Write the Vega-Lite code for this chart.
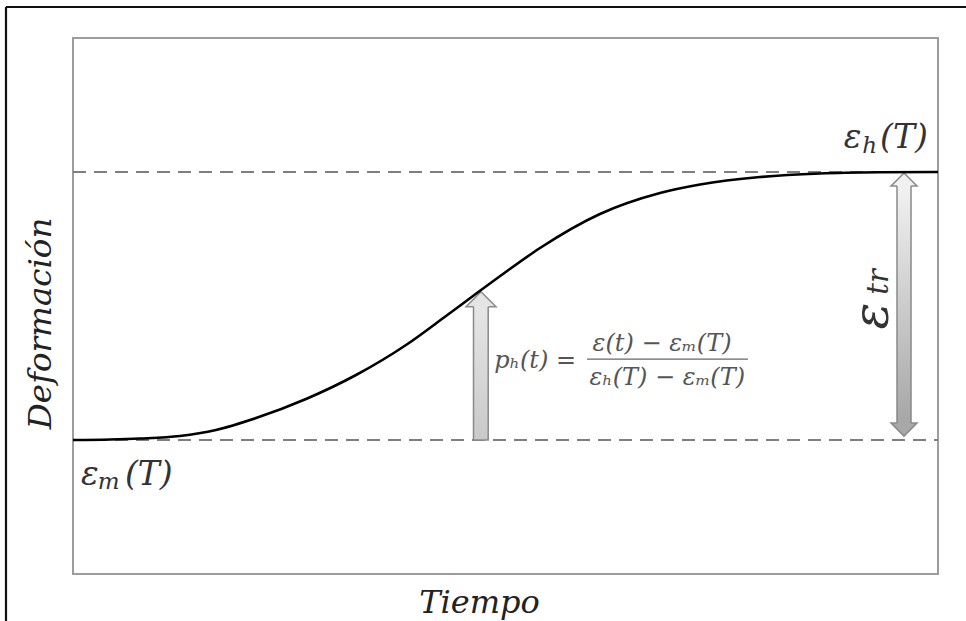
{
  "$schema": "https://vega.github.io/schema/vega-lite/v6.json",
  "width": 865,
  "height": 536,
  "autosize": {"type": "none"},
  "padding": {"left": 73, "top": 38, "right": 28, "bottom": 47},
  "background": "white",
  "config": {"view": {"stroke": "#9c9c9c", "strokeWidth": 2}},
  "encoding": {
    "x": {
      "field": "t", "type": "quantitative",
      "scale": {"domain": [0, 10], "nice": false, "zero": false},
      "axis": {
        "title": "Tiempo", "domain": false, "ticks": false, "labels": false, "grid": false,
        "titleFont": "DejaVu Serif", "titleFontStyle": "italic", "titleFontWeight": "normal",
        "titleFontSize": 32, "titleColor": "#222222", "titleX": 406, "titleY": 38,
        "titleAlign": "center", "titleBaseline": "alphabetic", "titleAnchor": null
      }
    },
    "y": {
      "field": "e", "type": "quantitative",
      "scale": {"domain": [-0.5, 1.5], "nice": false, "zero": false},
      "axis": {
        "title": "Deformación", "domain": false, "ticks": false, "labels": false, "grid": false,
        "titleFont": "DejaVu Serif", "titleFontStyle": "italic", "titleFontWeight": "normal",
        "titleFontSize": 32.5, "titleColor": "#222222", "titleX": -23, "titleY": 285,
        "titleAngle": 270, "titleAlign": "center", "titleBaseline": "alphabetic", "titleAnchor": null
      }
    }
  },
  "layer": [
    {
      "data": {"values": [
        {"part": "top", "t": -0.7746, "e": 1.6157, "t2": 10.6, "e2": 1.6157},
        {"part": "left", "t": -0.7746, "e": 1.6157, "t2": -0.7746, "e2": -0.8}
      ]},
      "mark": {"type": "rule", "color": "#111111", "strokeWidth": 2.2, "clip": false},
      "encoding": {"x2": {"field": "t2"}, "y2": {"field": "e2"}}
    },
    {
      "data": {"values": [
        {"level": "εm(T)", "t": 0, "t2": 10, "e": 0},
        {"level": "εh(T)", "t": 0, "t2": 10, "e": 1}
      ]},
      "mark": {"type": "rule", "color": "#7f7f7f", "strokeWidth": 2, "strokeDash": [13, 8]},
      "encoding": {"x2": {"field": "t2"}}
    },
    {
      "data": {"values": [
        {"arrow": "p_h", "t": 4.63, "t2": 4.80, "e": 0, "e2": 0.505}
      ]},
      "mark": {
        "type": "rect", "stroke": "#8a8a8a", "strokeWidth": 1.5,
        "fill": {"gradient": "linear", "x1": 0, "y1": 0, "x2": 0, "y2": 1,
          "stops": [{"offset": 0, "color": "#e6e6e6"}, {"offset": 1, "color": "#c9c9c9"}]}
      },
      "encoding": {"x2": {"field": "t2"}, "y2": {"field": "e2"}}
    },
    {
      "data": {"values": [{"arrow": "p_h", "t": 4.717, "e": 0.497}]},
      "mark": {
        "type": "point", "filled": true, "opacity": 1, "size": 900,
        "shape": "M -0.5 0 L -1 0 L 0 -1 L 1 0 L 0.5 0",
        "fill": "#e4e4e4", "stroke": "#8a8a8a", "strokeWidth": 1.5
      }
    },
    {
      "data": {"values": [
        {"arrow": "ε_tr", "t": 9.526, "t2": 9.688, "e": 0.06, "e2": 0.952}
      ]},
      "mark": {
        "type": "rect", "stroke": "#8a8a8a", "strokeWidth": 1.5,
        "fill": {"gradient": "linear", "x1": 0, "y1": 0, "x2": 0, "y2": 1,
          "stops": [{"offset": 0, "color": "#f2f2f2"}, {"offset": 1, "color": "#a6a6a6"}]}
      },
      "encoding": {"x2": {"field": "t2"}, "y2": {"field": "e2"}}
    },
    {
      "data": {"values": [{"arrow": "ε_tr top", "t": 9.607, "e": 0.948}]},
      "mark": {
        "type": "point", "filled": true, "opacity": 1, "size": 676,
        "shape": "M -0.54 0 L -1 0 L 0 -1 L 1 0 L 0.54 0",
        "fill": "#f0f0f0", "stroke": "#8a8a8a", "strokeWidth": 1.5
      }
    },
    {
      "data": {"values": [{"arrow": "ε_tr bottom", "t": 9.607, "e": 0.063}]},
      "mark": {
        "type": "point", "filled": true, "opacity": 1, "size": 676,
        "shape": "M -0.54 0 L -1 0 L 0 1 L 1 0 L 0.54 0",
        "fill": "#a8a8a8", "stroke": "#8a8a8a", "strokeWidth": 1.5
      }
    },
    {
      "data": {"values": [
        {"t": 0, "e": 0}, {"t": 0.428, "e": 0.0019}, {"t": 0.775, "e": 0.0056},
        {"t": 1.237, "e": 0.0149}, {"t": 1.653, "e": 0.0373}, {"t": 2.116, "e": 0.0821},
        {"t": 2.694, "e": 0.153}, {"t": 3.272, "e": 0.2425}, {"t": 3.85, "e": 0.3545},
        {"t": 4.312, "e": 0.4627}, {"t": 4.624, "e": 0.5373}, {"t": 4.971, "e": 0.6194},
        {"t": 5.399, "e": 0.7164}, {"t": 6.092, "e": 0.8433}, {"t": 6.786, "e": 0.9216},
        {"t": 7.249, "e": 0.9534}, {"t": 7.942, "e": 0.9813}, {"t": 8.636, "e": 0.9944},
        {"t": 9.329, "e": 0.9989}, {"t": 10, "e": 1.0}
      ]},
      "mark": {"type": "line", "color": "#000000", "strokeWidth": 2.6, "interpolate": "monotone"}
    },
    {
      "data": {"values": [{"t": 5.942, "t2": 7.803, "e": 0.302}]},
      "mark": {"type": "rule", "color": "#666666", "strokeWidth": 1.3},
      "encoding": {"x2": {"field": "t2"}}
    },
    {
      "data": {"values": [
        {"label": "ε", "t": 8.91, "e": 1.0896},
        {"label": "(T)", "t": 9.33, "e": 1.0896},
        {"label": "ε", "t": 0.0925, "e": -0.168},
        {"label": "(T)", "t": 0.60, "e": -0.168}
      ]},
      "mark": {"type": "text", "font": "DejaVu Serif", "fontStyle": "italic", "fontSize": 33,
        "color": "#333333", "align": "left", "baseline": "alphabetic"},
      "encoding": {"text": {"field": "label"}}
    },
    {
      "data": {"values": [
        {"label": "h", "t": 9.125, "e": 1.0709},
        {"label": "m", "t": 0.285, "e": -0.183}
      ]},
      "mark": {"type": "text", "font": "DejaVu Serif", "fontStyle": "italic", "fontSize": 23,
        "color": "#333333", "align": "left", "baseline": "alphabetic"},
      "encoding": {"text": {"field": "label"}}
    },
    {
      "data": {"values": [{"label": "ε", "t": 9.25, "e": 0.462}]},
      "mark": {"type": "text", "font": "DejaVu Serif", "fontStyle": "italic", "fontSize": 50,
        "color": "#333333", "align": "center", "baseline": "middle", "angle": 270},
      "encoding": {"text": {"field": "label"}}
    },
    {
      "data": {"values": [{"label": "tr", "t": 9.32, "e": 0.59}]},
      "mark": {"type": "text", "font": "DejaVu Serif", "fontStyle": "italic", "fontSize": 29,
        "color": "#333333", "align": "center", "baseline": "middle", "angle": 270},
      "encoding": {"text": {"field": "label"}}
    },
    {
      "data": {"values": [{"label": "pₕ(t) =", "t": 4.87, "e": 0.27}]},
      "mark": {"type": "text", "font": "DejaVu Serif", "fontStyle": "italic", "fontSize": 24,
        "color": "#555555", "align": "left", "baseline": "alphabetic"},
      "encoding": {"text": {"field": "label"}}
    },
    {
      "data": {"values": [
        {"label": "ε(t) − εₘ(T)", "t": 6.81, "e": 0.332},
        {"label": "εₕ(T) − εₘ(T)", "t": 6.87, "e": 0.205}
      ]},
      "mark": {"type": "text", "font": "DejaVu Serif", "fontStyle": "italic", "fontSize": 24,
        "color": "#555555", "align": "center", "baseline": "alphabetic"},
      "encoding": {"text": {"field": "label"}}
    }
  ]
}
